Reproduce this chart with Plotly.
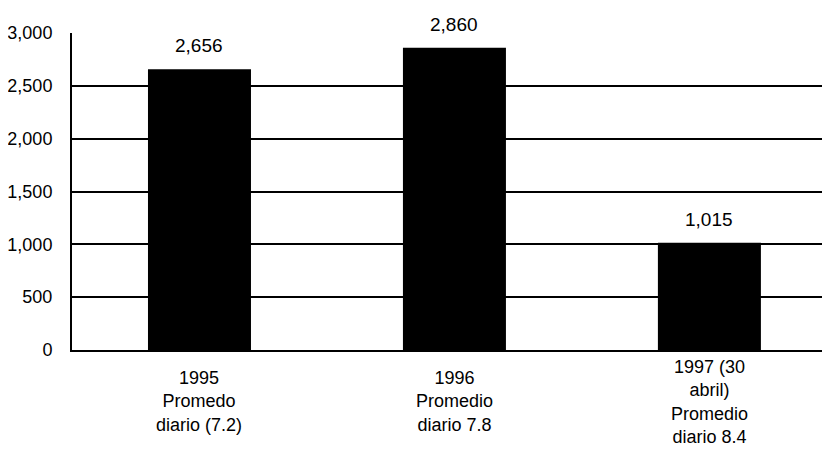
import plotly.graph_objects as go

categories = ["1995", "1996", "1997"]
category_labels = [
    "1995<br>Promedo<br>diario (7.2)",
    "1996<br>Promedio<br>diario 7.8",
    "1997 (30<br>abril)<br>Promedio<br>diario 8.4",
]
values = [2656, 2860, 1015]
value_labels = ["2,656", "2,860", "1,015"]
y_ticks = [0, 500, 1000, 1500, 2000, 2500, 3000]
y_tick_text = ["0", "500", "1,000", "1,500", "2,000", "2,500", "3,000"]

FONT = "Liberation Sans, Arial, sans-serif"

fig = go.Figure()
fig.add_trace(go.Bar(
    x=categories, y=values, width=0.404,
    marker=dict(color="black", line=dict(width=0)),
    hoverinfo="skip",
))

# annotations on a category axis use the category index
for i, (v, t) in enumerate(zip(values, value_labels)):
    fig.add_annotation(x=i, y=v, xref="x", yref="y", text=t, showarrow=False,
                       xanchor="center", yanchor="bottom", yshift=11,
                       font=dict(family=FONT, size=19, color="black"))

for i, t in enumerate(category_labels):
    fig.add_annotation(x=i, y=-0.164, xref="x", yref="paper", text=t,
                       showarrow=False, xanchor="center", yanchor="middle",
                       align="center",
                       font=dict(family=FONT, size=18, color="black"))

fig.update_layout(
    width=822, height=446,
    margin=dict(l=64, r=0, t=25, b=104),
    paper_bgcolor="white", plot_bgcolor="white",
    showlegend=False,
    font=dict(family=FONT, color="black"),
    xaxis=dict(type="category", range=[-0.5, 2.473], showticklabels=False,
               showgrid=False, zeroline=False, showline=True,
               linecolor="black", linewidth=2, ticks=""),
    yaxis=dict(range=[0, 3000], tickvals=y_ticks, ticktext=y_tick_text,
               showgrid=True, gridcolor="black", gridwidth=1.6,
               zeroline=False, showline=True, linecolor="black", linewidth=2,
               ticks="", ticklabelstandoff=14,
               tickfont=dict(family=FONT, size=18, color="black")),
)

fig.write_html("out.html")
